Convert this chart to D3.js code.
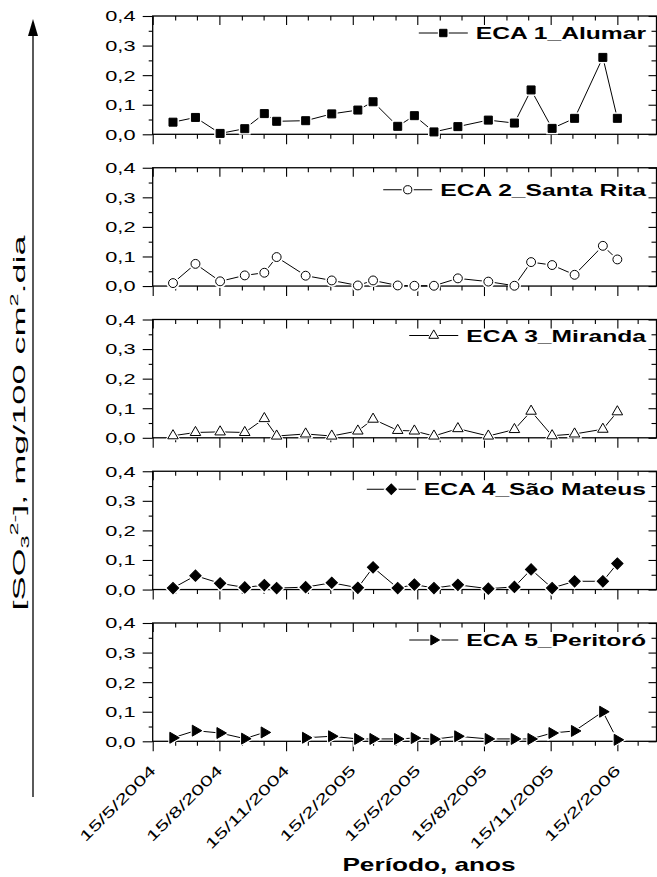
<!DOCTYPE html>
<html>
<head>
<meta charset="utf-8">
<script src="https://cdn.jsdelivr.net/npm/d3@7"></script>
<style>
  body { margin: 0; background: #fff; }
  svg { display: block; font-family: "Liberation Sans", Arial, sans-serif; }
</style>
</head>
<body>
<div id="chart"></div>
<script>
// SO3 sampling, 5 stations - small multiples

// Data
const sampleDates = ["2004-06-12", "2004-07-13", "2004-08-16", "2004-09-19", "2004-10-16", "2004-11-02",
  "2004-12-12", "2005-01-17", "2005-02-22", "2005-03-15", "2005-04-18", "2005-05-11", "2005-06-07",
  "2005-07-10", "2005-08-21", "2005-09-26", "2005-10-19", "2005-11-17", "2005-12-18", "2006-01-26", "2006-02-15"];

const alumar = [0.041, 0.057, 0.003, 0.019, 0.070, 0.044, 0.046, 0.069, 0.082, 0.110, 0.027,
  0.063, 0.008, 0.026, 0.048, 0.038, 0.150, 0.020, 0.054, 0.260, 0.054];
const santaRita = [0.010, 0.075, 0.016, 0.036, 0.045, 0.098, 0.035, 0.019, 0.002, 0.019, 0.002,
  0.001, 0.001, 0.026, 0.015, 0.001, 0.081, 0.071, 0.038, 0.136, 0.090];
const miranda = [0.007, 0.018, 0.020, 0.018, 0.065, 0.006, 0.013, 0.006, 0.023, 0.063, 0.025,
  0.023, 0.006, 0.031, 0.006, 0.028, 0.090, 0.007, 0.013, 0.029, 0.088];
const saoMateus = [0.005, 0.047, 0.021, 0.007, 0.015, 0.005, 0.008, 0.023, 0.006, 0.075, 0.005,
  0.017, 0.005, 0.016, 0.003, 0.009, 0.068, 0.005, 0.028, 0.028, 0.088];
const peritoro = [0.012, 0.036, 0.028, 0.009, 0.030, null, 0.012, 0.017, 0.008, 0.008, 0.008,
  0.011, 0.007, 0.017, 0.008, 0.008, 0.008, 0.028, 0.035, 0.100, 0.005];

const seriesNames = ["ECA 1_Alumar", "ECA 2_Santa Rita", "ECA 3_Miranda", "ECA 4_São Mateus", "ECA 5_Peritoró"];
const seriesValues = [alumar, santaRita, miranda, saoMateus, peritoro];

const xTickLabels = ["15/5/2004", "15/8/2004", "15/11/2004", "15/2/2005", "15/5/2005", "15/8/2005", "15/11/2005", "15/2/2006"];
const yTickValues = [0, 0.1, 0.2, 0.3, 0.4];
const yMinorValues = [0.05, 0.15, 0.25, 0.35];

// Layout
const width = 657;
const height = 877;
const plotLeft = 152.7;
const plotRight = 656.5;
const firstTop = 16;
const panelPitch = 151.75;
const panelH = 118.3;
const legendDy = [17, 22, 16, 18, 17];
const textStretch = 1.45;

// marker styles: symbol, fill, rotation
const markerStyles = [
  { type: d3.symbolSquare, size: 64, fill: "#000", rotate: 0 },
  { type: d3.symbolCircle, size: 62, fill: "#fff", rotate: 0 },
  { type: d3.symbolTriangle, size: 48, fill: "#fff", rotate: 0 },
  { type: d3.symbolSquare, size: 64, fill: "#000", rotate: 45 },
  { type: d3.symbolTriangle, size: 52, fill: "#000", rotate: 90 }
];

const parseDate = d3.timeParse("%Y-%m-%d");
const parseTick = d3.timeParse("%d/%m/%Y");
const fmt = d3.formatLocale({ decimal: ",", thousands: ".", grouping: [3], currency: ["", ""] }).format(".1f");

const x = d3.scaleTime()
  .domain([parseTick("15/5/2004"), parseDate("2006-04-10")])
  .range([plotLeft, plotRight]);

const majorTicks = xTickLabels.map(parseTick);
const minorTicks = d3.timeMonth.range(new Date(2004, 4, 1), new Date(2006, 3, 1))
  .map(d => d3.timeDay.offset(d, 14))
  .filter(d => !majorTicks.some(m => +m === +d));

const svg = d3.select("#chart").append("svg")
  .attr("width", width)
  .attr("height", height);

function styleAxis(g) {
  g.select(".domain").remove();
  g.selectAll(".tick line").attr("stroke", "#000").attr("stroke-width", 1.1);
}

function drawMarker(g, style, cx, cy, scale = 1) {
  // white halo so the line stops short of the marker
  g.append("path")
    .attr("d", d3.symbol().type(style.type).size(style.size * 2.2 * scale)())
    .attr("transform", `translate(${cx},${cy}) rotate(${style.rotate})`)
    .attr("fill", "#fff");
  g.append("path")
    .attr("d", d3.symbol().type(style.type).size(style.size * scale)())
    .attr("transform", `translate(${cx},${cy}) rotate(${style.rotate})`)
    .attr("fill", style.fill)
    .attr("stroke", "#000")
    .attr("stroke-width", 1);
}

seriesValues.forEach((values, i) => {
  const top = firstTop + i * panelPitch;
  const bottom = top + panelH;
  const y = d3.scaleLinear().domain([0, 0.4]).range([bottom, top]);
  const g = svg.append("g");

  // left axis (outward ticks + labels)
  g.append("g")
    .attr("transform", `translate(${plotLeft},0)`)
    .call(d3.axisLeft(y).tickValues(yTickValues).tickSize(10).tickFormat(""))
    .call(styleAxis);
  g.append("g")
    .attr("transform", `translate(${plotLeft},0)`)
    .call(d3.axisLeft(y).tickValues(yMinorValues).tickSize(4).tickFormat(""))
    .call(styleAxis);

  yTickValues.forEach(v => {
    g.append("text")
      .attr("transform", `translate(135.5,${y(v)}) scale(${textStretch},1)`)
      .attr("text-anchor", "end")
      .attr("dy", "0.36em")
      .attr("font-size", 15)
      .attr("fill", "#000")
      .text(fmt(v));
  });

  // right axis (inward)
  g.append("g")
    .attr("transform", `translate(${plotRight},0)`)
    .call(d3.axisRight(y).tickValues(yTickValues).tickSize(-8).tickFormat(""))
    .call(styleAxis);
  g.append("g")
    .attr("transform", `translate(${plotRight},0)`)
    .call(d3.axisRight(y).tickValues(yMinorValues).tickSize(-5).tickFormat(""))
    .call(styleAxis);

  // top axis (inward)
  g.append("g")
    .attr("transform", `translate(0,${top})`)
    .call(d3.axisTop(x).tickValues(majorTicks).tickSize(-9).tickFormat(""))
    .call(styleAxis);
  g.append("g")
    .attr("transform", `translate(0,${top})`)
    .call(d3.axisTop(x).tickValues(minorTicks).tickSize(-4.5).tickFormat(""))
    .call(styleAxis);

  // bottom axis (outward)
  g.append("g")
    .attr("transform", `translate(0,${bottom})`)
    .call(d3.axisBottom(x).tickValues(majorTicks).tickSize(10).tickFormat(""))
    .call(styleAxis);
  g.append("g")
    .attr("transform", `translate(0,${bottom})`)
    .call(d3.axisBottom(x).tickValues(minorTicks).tickSize(4.5).tickFormat(""))
    .call(styleAxis);

  // frame
  g.append("rect")
    .attr("x", plotLeft)
    .attr("y", top)
    .attr("width", plotRight - plotLeft)
    .attr("height", panelH)
    .attr("fill", "none")
    .attr("stroke", "#000")
    .attr("stroke-width", 1.3);

  // data
  const pts = sampleDates.map((d, k) => ({ date: parseDate(d), v: values[k] }));
  const line = d3.line()
    .defined(d => d.v != null)
    .x(d => x(d.date))
    .y(d => y(d.v));

  g.append("path")
    .datum(pts)
    .attr("d", line)
    .attr("fill", "none")
    .attr("stroke", "#000")
    .attr("stroke-width", 1);

  const style = markerStyles[i];
  pts.filter(d => d.v != null).forEach(d => drawMarker(g, style, x(d.date), y(d.v)));

  // legend
  const ly = top + legendDy[i];
  const legendText = g.append("text")
    .attr("transform", `translate(646,${ly}) scale(${textStretch},1)`)
    .attr("text-anchor", "end")
    .attr("dy", "0.36em")
    .attr("font-size", 17)
    .attr("font-weight", "bold")
    .attr("fill", "#000")
    .text(seriesNames[i]);
  const textW = legendText.node().getComputedTextLength() * textStretch;
  const lineEnd = 646 - textW - 8;
  g.append("line")
    .attr("x1", lineEnd - 49)
    .attr("x2", lineEnd)
    .attr("y1", ly)
    .attr("y2", ly)
    .attr("stroke", "#000")
    .attr("stroke-width", 1);
  drawMarker(g, style, lineEnd - 24.5, ly, 0.85);

  // date labels on the last panel
  if (i === seriesValues.length - 1) {
    majorTicks.forEach((d, k) => {
      g.append("text")
        .attr("transform", `translate(${x(d) + 4},${bottom + 30}) rotate(-45) scale(1.56,1)`)
        .attr("text-anchor", "end")
        .attr("font-size", 14.5)
        .attr("fill", "#000")
        .text(xTickLabels[k]);
    });
  }
});

// y axis title with arrow
svg.append("line")
  .attr("x1", 33).attr("x2", 33)
  .attr("y1", 797).attr("y2", 30)
  .attr("stroke", "#000")
  .attr("stroke-width", 1.3);
svg.append("path")
  .attr("d", "M33,19 L28,36 L38,36 Z")
  .attr("fill", "#000");

const yTitle = svg.append("text")
  .attr("transform", `translate(25,423) rotate(-90) scale(2.12,1)`)
  .attr("text-anchor", "middle")
  .attr("font-size", 17)
  .attr("fill", "#000");
yTitle.append("tspan").text("[SO");
yTitle.append("tspan").attr("font-size", 11).attr("dy", 4).text("3");
yTitle.append("tspan").attr("font-size", 11).attr("dy", -11).text("2-");
yTitle.append("tspan").attr("dy", 7).text("], mg/100 cm");
yTitle.append("tspan").attr("font-size", 11).attr("dy", -7).text("2");
yTitle.append("tspan").attr("dy", 7).text(".dia");

// x axis title
svg.append("text")
  .attr("transform", `translate(429,871) scale(1.38,1)`)
  .attr("text-anchor", "middle")
  .attr("font-size", 19)
  .attr("font-weight", "bold")
  .attr("fill", "#000")
  .text("Período, anos");
</script>
</body>
</html>
